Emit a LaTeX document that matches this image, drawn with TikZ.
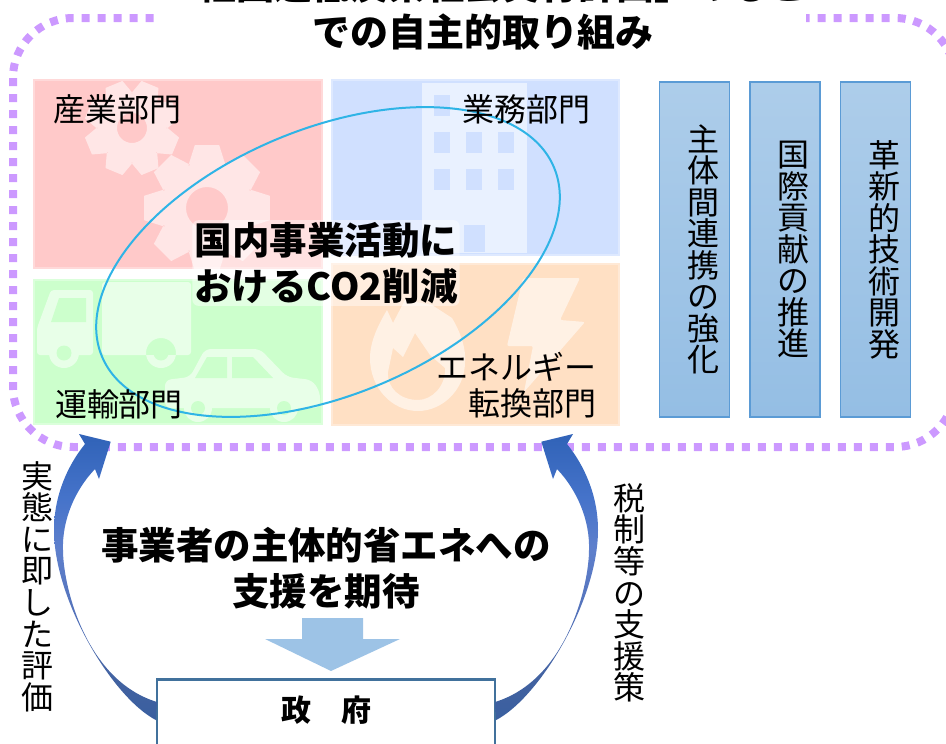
\documentclass[tikz,border=0pt]{standalone}
\usepackage{fontspec}
\setmainfont{Noto Sans CJK JP}
\usetikzlibrary{shapes.geometric}

\definecolor{dotpurple}{HTML}{CC99FF}
\definecolor{redpanel}{HTML}{FFC9C9}
\definecolor{bluepanel}{HTML}{D0E0FF}
\definecolor{greenpanel}{HTML}{CCFFCC}
\definecolor{orangepanel}{HTML}{FFE0C4}
\definecolor{ovalblue}{HTML}{2FB4E6}
\definecolor{pillar}{HTML}{5B9BD5}
\definecolor{downblue}{HTML}{9DC3E6}
\definecolor{boxblue}{HTML}{41719C}

\pgfdeclareverticalshading{crescent}{100bp}{
	rgb(0bp)=(0.227,0.373,0.627);
	rgb(25bp)=(0.227,0.373,0.627);
	rgb(32bp)=(0.259,0.384,0.627);
	rgb(42bp)=(0.320,0.440,0.720);
	rgb(55bp)=(0.370,0.500,0.800);
	rgb(64bp)=(0.270,0.450,0.790);
	rgb(74bp)=(0.196,0.392,0.725);
	rgb(100bp)=(0.196,0.392,0.725)}

\lineskiplimit=-20pt

\tikzset{
	panel/.style = {line width = 1.5, draw = #1!70!white, fill = #1},
	emblem/.style = {fill = white, fill opacity = 0.55},
	sector/.style = {font = \fontsize{32}{36}\selectfont, inner sep = 0, align = right},
	heading/.style = {font = \fontsize{37.5}{46}\selectfont\bfseries, align = center},
	halo/.style = {heading, fill = white, fill opacity = 0.45, text opacity = 1, rounded corners = 6, inner sep = 2},
	pillarbox/.style = {draw = pillar, line width = 1.2, top color = pillar!50!white, bottom color = pillar!65!white,
		minimum width = 70, minimum height = 335, inner xsep = 10.5, inner ysep = 0, text width = 49, align = right,
		font = \fontsize{32}{31.5}\selectfont},
	sidetext/.style = {inner sep = 0, align = center, font = \fontsize{32}{31.6}\selectfont}
}

\newcommand{\gear}[5]{
	\fill[emblem, even odd rule, shift = {(#1, #2)}, rotate = #3]
		(-24:0.72*#4) \foreach \a in {0, 45, ..., 315} {
			-- (\a-24:0.72*#4) -- (\a-11:#4) -- (\a+11:#4) -- (\a+24:0.72*#4)
		} -- cycle (0, 0) circle (#5);
}

\begin{document}
\begin{tikzpicture}[x = 1pt, y = -1pt]

	\useasboundingbox (0, 0) rectangle (946, 744);
	\clip (0, 0) rectangle (946, 744);

	% Sector panels

	\fill[panel = redpanel] (34, 80) rectangle (322, 268);
	\fill[panel = bluepanel] (332, 80) rectangle (619, 255);
	\fill[panel = greenpanel] (34, 280) rectangle (322, 424);
	\fill[panel = orangepanel] (332, 264) rectangle (619, 425);

	% Emblems on the panels

	\gear{132}{128}{22.5}{48}{15}
	\gear{207}{208}{0}{64}{21}

	\fill[emblem] (422, 83) rectangle (527, 253);
	\begin{scope}[fill = bluepanel]
		\fill (434, 95) rectangle (450, 116);
		\foreach \wx in {434, 466, 498} {
			\fill (\wx, 132) rectangle (\wx+16, 153);
			\fill (\wx, 169) rectangle (\wx+16, 190);
		}
		\fill (464, 225) rectangle (485, 252);
	\end{scope}

	\fill[emblem, rounded corners = 3] (37, 355) -- (37, 328) -- (51, 290) -- (93, 290) -- (93, 355) -- cycle
		(102, 282) rectangle (191, 355) (64, 353) circle (15) (161, 353) circle (15);
	\fill[greenpanel] (59, 298) -- (86, 298) -- (86, 322) -- (51, 322) -- cycle
		(64, 353) circle (7.5) (161, 353) circle (7.5);

	\fill[emblem, rounded corners = 6] (165, 408) -- (165, 380) -- (190, 377) -- (205, 349) -- (260, 349) -- (287, 377) -- (312, 380) -- (320, 392) -- (320, 408) -- cycle
		(198, 408) circle (14) (284, 408) circle (14);
	\fill[greenpanel] (195, 378) -- (207, 357) -- (227, 357) -- (227, 378) -- cycle
		(232, 357) -- (253, 357) -- (273, 378) -- (232, 378) -- cycle
		(198, 408) circle (7) (284, 408) circle (7);

	\fill[emblem, even odd rule] (387, 310) -- (393, 323) -- (405, 300) -- (432, 305) -- (452, 318)
		.. controls (462, 335) and (466, 350) .. (465, 362)
		.. controls (465, 390) and (442, 411) .. (418, 411)
		.. controls (392, 411) and (370, 388) .. (370, 358)
		.. controls (370, 340) and (380, 322) .. (387, 310) -- cycle
		(393, 348) -- (403, 357) -- (415, 333) -- (430, 355) -- (445, 368)
		.. controls (446, 386) and (432, 400) .. (418, 400)
		.. controls (400, 400) and (387, 388) .. (388, 372) -- cycle;
	\fill[emblem, rounded corners = 2] (523, 278) -- (580, 278) -- (560, 320) -- (585, 322) -- (524, 392) -- (533, 346) -- (507, 346) -- cycle;

	% Purple frame and its title

	\draw[dotpurple, line width = 8, dash pattern = on 8 off 8, rounded corners = 60]
		(13, 18) rectangle (955, 447);

	\node (title) [font = \fontsize{38}{47}\selectfont\bfseries, fill = white, inner xsep = 0, inner ysep = 3, align = center] at (483, 9)
		{「経団連低炭素社会実行計画」のもと\\での自主的取り組み};

	% Oval and sector names

	\node (oval) [draw = ovalblue, line width = 2, ellipse, inner sep = 0, minimum width = 490, minimum height = 266, rotate = 22.7] at (328, 262) {};

	\node (sangyo) [sector] at (117, 109) {産業部門};
	\node (gyomu) [sector] at (526, 109) {業務部門};
	\node (unyu) [sector] at (119, 404) {運輸部門};
	\node (tenkan) [sector, anchor = east] at (597, 385) {エネルギー\\転換部門};

	\node (kokunai) [halo] at (326, 263) {国内事業活動に\\おけるCO2削減};

	% Pillars on the right

	\node (renkei) [pillarbox] at (694.5, 249.5) {主\\体\\間\\連\\携\\の\\強\\化};
	\node (kokusai) [pillarbox] at (785, 249.5) {国\\際\\貢\\献\\の\\推\\進};
	\node (kakushin) [pillarbox] at (875.5, 249.5) {革\\新\\的\\技\\術\\開\\発};

	% Government and its two arrows

	\node (seifu) [draw = boxblue, line width = 2.5, fill = white, anchor = north, inner sep = 0, minimum width = 338,
		text height = 42, text depth = 40, font = \fontsize{30}{30}\selectfont\bfseries] at (326, 678) {政　府};

	\coordinate (hyokatip) at (110.7, 441.7);
	\coordinate (shientip) at (541.3, 441.7);

	\shade[shading = crescent] (seifu.north west) ++(0, 42)
		.. controls (112, 697) and (54, 600) .. (54, 530)
		.. controls (54, 495) and (68, 465) .. (85, 444)
		-- (79, 434) -- (hyokatip) -- (99, 479) -- (95, 469)
		.. controls (75, 490) and (62, 520) .. (63, 550)
		.. controls (63, 585) and (85, 680) .. (157, 702) -- cycle;

	\shade[shading = crescent] (seifu.north east) ++(0, 42)
		.. controls (540, 697) and (598, 600) .. (598, 530)
		.. controls (598, 495) and (584, 465) .. (567, 444)
		-- (573, 434) -- (shientip) -- (553, 479) -- (557, 469)
		.. controls (577, 490) and (590, 520) .. (589, 550)
		.. controls (589, 585) and (567, 680) .. (495, 702) -- cycle;

	\node (hyoka) [sidetext] at (37, 586.5) {実\\態\\に\\即\\し\\た\\評\\価};
	\node (shien) [sidetext] at (629, 593) {税\\制\\等\\の\\支\\援\\策};

	% Expectation and the block arrow below it

	\node (kitai) [heading] at (326, 568) {事業者の主体的省エネへの\\支援を期待};

	\fill[downblue] (302, 618) -- (363, 618) -- (363, 639) -- (400, 639) -- (331, 671) -- (265, 639) -- (302, 639) -- cycle;

\end{tikzpicture}
\end{document}
